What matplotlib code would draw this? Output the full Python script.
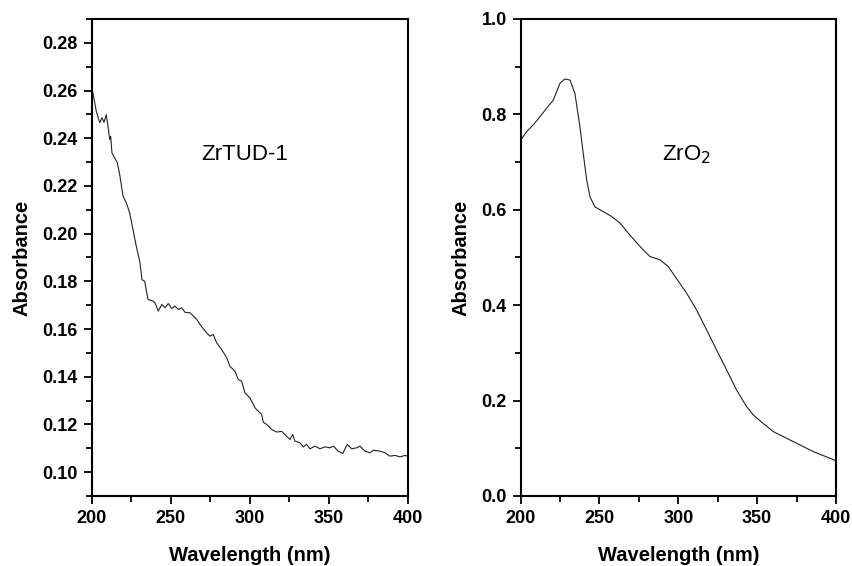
import numpy as np
import matplotlib
matplotlib.use('Agg')
import matplotlib.pyplot as plt
from matplotlib.ticker import MultipleLocator

# ZrTUD-1 spectrum
wl_tud = [200, 200.8, 202.9, 205.1, 206.5, 207.8, 209.2, 210.3, 211.4, 212.0, 212.8,
          214.5, 216.2, 217.7, 219.8, 221.9, 224.0, 226.1, 228.2, 230.4, 231.8, 233.5,
          235.6, 238.8, 240.0, 242.1, 244.3, 246.4, 248.4, 250.6, 252.7, 254.8, 256.9,
          259.0, 262.2, 266.4, 269.5, 272.7, 274.8, 276.9, 279.0, 282.2, 285.4, 287.4,
          290.6, 292.7, 294.8, 296.9, 300.1, 303.3, 306.4, 307.5, 308.5, 310.7, 313.8,
          317.0, 320.1, 323.3, 325.4, 327.1, 328.5, 331.7, 333.8, 335.9, 338.0, 341.2,
          344.4, 347.5, 350.7, 352.8, 355.9, 358.7, 361.6, 364.4, 367.6, 369.6, 372.8,
          376.0, 378.1, 382.3, 385.5, 388.6, 391.8, 395.0, 398.1, 400]
ab_tud = [0.2595, 0.2590, 0.2513, 0.2465, 0.2486, 0.2467, 0.2499, 0.2450, 0.2395, 0.2408,
          0.2339, 0.2318, 0.2297, 0.2248, 0.2157, 0.2129, 0.2087, 0.2017, 0.1947, 0.1884,
          0.1807, 0.1800, 0.1724, 0.1717, 0.1710, 0.1675, 0.1703, 0.1689, 0.1707, 0.1686,
          0.1696, 0.1682, 0.1689, 0.1670, 0.1668, 0.1640, 0.1610, 0.1584, 0.1570, 0.1577,
          0.1542, 0.1514, 0.1479, 0.1444, 0.1423, 0.1388, 0.1381, 0.1332, 0.1311, 0.1269,
          0.1249, 0.1241, 0.1209, 0.1200, 0.1179, 0.1168, 0.1171, 0.1150, 0.1137, 0.1158,
          0.1130, 0.1123, 0.1106, 0.1116, 0.1098, 0.1109, 0.1098, 0.1106, 0.1102, 0.1109,
          0.1088, 0.1078, 0.1116, 0.1098, 0.1102, 0.1109, 0.1088, 0.1081, 0.1092, 0.1088,
          0.1081, 0.1067, 0.1070, 0.1064, 0.1070, 0.1067]

# ZrO2 spectrum
wl_zr = [200, 203.8, 208, 212.2, 216.5, 220.7, 224.9, 228, 231.3, 234.4, 237.6, 239.7,
         241.9, 244, 247.1, 252.4, 257.7, 263, 269.3, 275.7, 282, 288.4, 293.6, 299,
         305.3, 311.6, 318, 324.3, 330.7, 337, 343.4, 347.5, 353.9, 360.2, 368.7, 377.2,
         385.6, 394, 400]
ab_zr = [0.746, 0.764, 0.778, 0.795, 0.813, 0.830, 0.865, 0.874, 0.872, 0.844, 0.774,
         0.718, 0.662, 0.627, 0.606, 0.596, 0.586, 0.572, 0.547, 0.523, 0.502, 0.495,
         0.481, 0.455, 0.425, 0.390, 0.348, 0.306, 0.264, 0.222, 0.187, 0.170, 0.152,
         0.135, 0.121, 0.107, 0.093, 0.082, 0.074]

plt.rcParams['font.family'] = ['Liberation Sans', 'DejaVu Sans']

fig = plt.figure(figsize=(8.53, 5.66), dpi=100)
ax1 = fig.add_axes([0.1075, 0.1237, 0.3708, 0.8428])
ax2 = fig.add_axes([0.6104, 0.1237, 0.3696, 0.8428])

ax1.plot(wl_tud, ab_tud, color='#222222', lw=0.8)
ax2.plot(wl_zr, ab_zr, color='#222222', lw=0.8)

ax1.set_xlim(200, 400)
ax1.set_ylim(0.09, 0.29)
ax1.yaxis.set_minor_locator(MultipleLocator(0.01))
ax1.set_yticks(np.arange(0.10, 0.281, 0.02))
ax1.yaxis.set_major_formatter(plt.FormatStrFormatter('%.2f'))

ax2.set_xlim(200, 400)
ax2.set_ylim(0, 1.0)
ax2.yaxis.set_major_locator(MultipleLocator(0.2))
ax2.yaxis.set_minor_locator(MultipleLocator(0.1))
ax2.yaxis.set_major_formatter(plt.FormatStrFormatter('%.1f'))

for ax in (ax1, ax2):
    ax.xaxis.set_major_locator(MultipleLocator(50))
    ax.xaxis.set_minor_locator(MultipleLocator(25))
    ax.tick_params(which='major', direction='out', length=6, width=1.3, labelsize=13, pad=4)
    ax.tick_params(which='minor', direction='out', length=4, width=1.3)
    for s in ax.spines.values():
        s.set_linewidth(1.5)
    for lab in ax.get_xticklabels() + ax.get_yticklabels():
        lab.set_fontweight('bold')
    ax.set_xlabel('Wavelength (nm)', fontsize=14.5, fontweight='bold', labelpad=14)
    ax.set_ylabel('Absorbance', fontsize=14.5, fontweight='bold', labelpad=8)

ax1.text(297, 0.233, 'ZrTUD-1', fontsize=16, ha='center', va='center')
ax2.text(305, 0.715, 'ZrO$_2$', fontsize=16, ha='center', va='center')

fig.savefig('out.png', dpi=100)
